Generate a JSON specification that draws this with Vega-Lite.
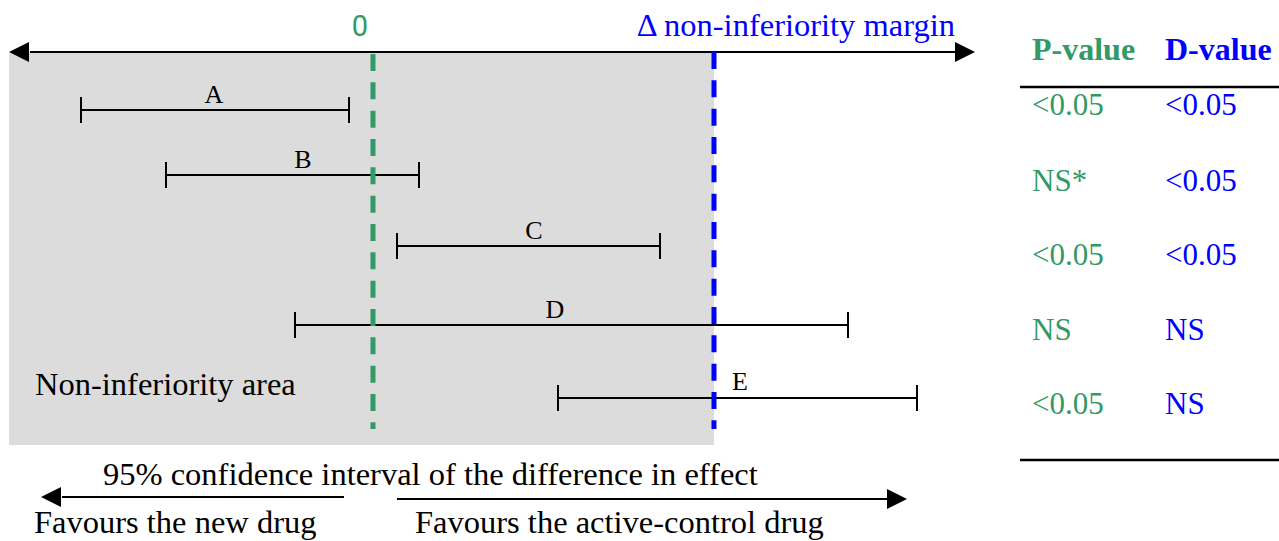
{
  "$schema": "https://vega.github.io/schema/vega-lite/v6.json",
  "width": 1279,
  "height": 541,
  "autosize": {"type": "none"},
  "padding": 0,
  "background": "white",
  "config": {"view": {"stroke": null}},
  "datasets": {
    "area": [{"x": -1.0674, "x2": 1.0, "y": 53, "y2": 445}],
    "arrows": [
      {"x": -1.0059, "x2": 1.7067, "y": 52},
      {"x": -0.912, "x2": -0.085, "y": 497},
      {"x": 0.0704, "x2": 1.5073, "y": 499}
    ],
    "heads": [
      {"x": -1.0674, "y": 52, "dir": "left"},
      {"x": 1.7654, "y": 52, "dir": "right"},
      {"x": -0.9736, "y": 497, "dir": "left"},
      {"x": 1.566, "y": 499, "dir": "right"}
    ],
    "intervals": [
      {"trial": "A", "lo": -0.8563, "hi": -0.0704, "y": 110, "lx": -0.4663, "ly": 103},
      {"trial": "B", "lo": -0.607, "hi": 0.1349, "y": 175, "lx": -0.2053, "ly": 168},
      {"trial": "C", "lo": 0.0704, "hi": 0.8416, "y": 246, "lx": 0.4721, "ly": 239},
      {"trial": "D", "lo": -0.2287, "hi": 1.393, "y": 325, "lx": 0.5337, "ly": 318},
      {"trial": "E", "lo": 0.5425, "hi": 1.5953, "y": 398, "lx": 1.0762, "ly": 390}
    ],
    "notes": [
      {"label": "Non-inferiority area", "x": -0.9912, "y": 395},
      {"label": "95% confidence interval of the difference in effect", "x": -0.7918, "y": 485},
      {"label": "Favours the new drug", "x": -0.9941, "y": 533},
      {"label": "Favours the active-control drug", "x": 0.1232, "y": 533}
    ],
    "header": [
      {"label": "P-value", "x": 1.9326, "col": "P"},
      {"label": "D-value", "x": 2.3226, "col": "D"}
    ],
    "table": [
      {"p": "<0.05", "d": "<0.05", "y": 115},
      {"p": "NS*", "d": "<0.05", "y": 191},
      {"p": "<0.05", "d": "<0.05", "y": 265},
      {"p": "NS", "d": "NS", "y": 340},
      {"p": "<0.05", "d": "NS", "y": 414}
    ],
    "tablelines": [
      {"x": 1.8974, "x2": 2.6569, "y": 87},
      {"x": 1.8974, "x2": 2.6569, "y": 460}
    ]
  },
  "layer": [
    {
      "data": {"name": "area"},
      "mark": {"type": "rect", "color": "#dcdcdc"},
      "encoding": {
        "x": {"field": "x", "type": "quantitative", "scale": {"domain": [-1.0938, 2.6569], "nice": false, "zero": false}, "axis": null},
        "x2": {"field": "x2"},
        "y": {"field": "y", "type": "quantitative", "scale": {"domain": [0, 541], "reverse": true, "nice": false, "zero": false}, "axis": null},
        "y2": {"field": "y2"}
      }
    },
    {
      "data": {"name": "arrows"},
      "mark": {"type": "rule", "color": "black", "strokeWidth": 2},
      "encoding": {
        "x": {"field": "x", "type": "quantitative", "scale": {"domain": [-1.0938, 2.6569], "nice": false, "zero": false}, "axis": null},
        "x2": {"field": "x2"},
        "y": {"field": "y", "type": "quantitative", "scale": {"domain": [0, 541], "reverse": true, "nice": false, "zero": false}, "axis": null}
      }
    },
    {
      "data": {"name": "heads"},
      "mark": {"type": "point", "filled": true, "color": "black", "opacity": 1, "size": 400, "strokeWidth": 0},
      "encoding": {
        "x": {"field": "x", "type": "quantitative", "scale": {"domain": [-1.0938, 2.6569], "nice": false, "zero": false}, "axis": null},
        "y": {"field": "y", "type": "quantitative", "scale": {"domain": [0, 541], "reverse": true, "nice": false, "zero": false}, "axis": null},
        "shape": {"field": "dir", "type": "nominal", "scale": {"domain": ["left", "right"], "range": ["M0,0L2,-1L2,1Z", "M0,0L-2,-1L-2,1Z"]}, "legend": null}
      }
    },
    {
      "data": {"name": "intervals"},
      "mark": {"type": "rule", "color": "black", "strokeWidth": 2},
      "encoding": {
        "x": {"field": "lo", "type": "quantitative", "scale": {"domain": [-1.0938, 2.6569], "nice": false, "zero": false}, "axis": null},
        "x2": {"field": "hi"},
        "y": {"field": "y", "type": "quantitative", "scale": {"domain": [0, 541], "reverse": true, "nice": false, "zero": false}, "axis": null}
      }
    },
    {
      "data": {"name": "intervals"},
      "mark": {"type": "tick", "orient": "vertical", "color": "black", "size": 26, "thickness": 2, "opacity": 1},
      "encoding": {
        "x": {"field": "lo", "type": "quantitative", "scale": {"domain": [-1.0938, 2.6569], "nice": false, "zero": false}, "axis": null},
        "y": {"field": "y", "type": "quantitative", "scale": {"domain": [0, 541], "reverse": true, "nice": false, "zero": false}, "axis": null}
      }
    },
    {
      "data": {"name": "intervals"},
      "mark": {"type": "tick", "orient": "vertical", "color": "black", "size": 26, "thickness": 2, "opacity": 1},
      "encoding": {
        "x": {"field": "hi", "type": "quantitative", "scale": {"domain": [-1.0938, 2.6569], "nice": false, "zero": false}, "axis": null},
        "y": {"field": "y", "type": "quantitative", "scale": {"domain": [0, 541], "reverse": true, "nice": false, "zero": false}, "axis": null}
      }
    },
    {
      "data": {"name": "intervals"},
      "mark": {"type": "text", "font": "Liberation Serif", "fontSize": 26, "align": "center", "baseline": "alphabetic", "color": "black"},
      "encoding": {
        "x": {"field": "lx", "type": "quantitative", "scale": {"domain": [-1.0938, 2.6569], "nice": false, "zero": false}, "axis": null},
        "y": {"field": "ly", "type": "quantitative", "scale": {"domain": [0, 541], "reverse": true, "nice": false, "zero": false}, "axis": null},
        "text": {"field": "trial"}
      }
    },
    {
      "data": {"values": [{"line": "zero"}]},
      "mark": {"type": "rule", "color": "#339966", "strokeWidth": 5, "strokeDash": [17, 11.33]},
      "encoding": {
        "x": {"datum": 0, "type": "quantitative", "scale": {"domain": [-1.0938, 2.6569], "nice": false, "zero": false}, "axis": null},
        "y": {"datum": 54, "type": "quantitative", "scale": {"domain": [0, 541], "reverse": true, "nice": false, "zero": false}, "axis": null},
        "y2": {"datum": 429}
      }
    },
    {
      "data": {"values": [{"line": "margin"}]},
      "mark": {"type": "rule", "color": "#0000ff", "strokeWidth": 5, "strokeDash": [17, 11.33]},
      "encoding": {
        "x": {"datum": 1, "type": "quantitative", "scale": {"domain": [-1.0938, 2.6569], "nice": false, "zero": false}, "axis": null},
        "y": {"datum": 52, "type": "quantitative", "scale": {"domain": [0, 541], "reverse": true, "nice": false, "zero": false}, "axis": null},
        "y2": {"datum": 429}
      }
    },
    {
      "data": {"values": [{"label": "0"}]},
      "mark": {"type": "text", "font": "Roboto", "fontSize": 29, "align": "center", "baseline": "alphabetic", "color": "#339966"},
      "encoding": {
        "x": {"datum": -0.0381, "type": "quantitative", "scale": {"domain": [-1.0938, 2.6569], "nice": false, "zero": false}, "axis": null},
        "y": {"datum": 36, "type": "quantitative", "scale": {"domain": [0, 541], "reverse": true, "nice": false, "zero": false}, "axis": null},
        "text": {"field": "label"}
      }
    },
    {
      "data": {"values": [{"label": "Δ non-inferiority margin"}]},
      "mark": {"type": "text", "font": "Liberation Serif", "fontSize": 32.5, "align": "right", "baseline": "alphabetic", "color": "#0000ff"},
      "encoding": {
        "x": {"datum": 1.7067, "type": "quantitative", "scale": {"domain": [-1.0938, 2.6569], "nice": false, "zero": false}, "axis": null},
        "y": {"datum": 36, "type": "quantitative", "scale": {"domain": [0, 541], "reverse": true, "nice": false, "zero": false}, "axis": null},
        "text": {"field": "label"}
      }
    },
    {
      "data": {"name": "notes"},
      "mark": {"type": "text", "font": "Liberation Serif", "fontSize": 32.5, "align": "left", "baseline": "alphabetic", "color": "black"},
      "encoding": {
        "x": {"field": "x", "type": "quantitative", "scale": {"domain": [-1.0938, 2.6569], "nice": false, "zero": false}, "axis": null},
        "y": {"field": "y", "type": "quantitative", "scale": {"domain": [0, 541], "reverse": true, "nice": false, "zero": false}, "axis": null},
        "text": {"field": "label"}
      }
    },
    {
      "data": {"name": "header"},
      "mark": {"type": "text", "font": "Liberation Serif", "fontSize": 32, "fontWeight": "bold", "align": "left", "baseline": "alphabetic"},
      "encoding": {
        "x": {"field": "x", "type": "quantitative", "scale": {"domain": [-1.0938, 2.6569], "nice": false, "zero": false}, "axis": null},
        "y": {"datum": 60, "type": "quantitative", "scale": {"domain": [0, 541], "reverse": true, "nice": false, "zero": false}, "axis": null},
        "text": {"field": "label"},
        "color": {"field": "col", "type": "nominal", "scale": {"domain": ["P", "D"], "range": ["#339966", "#0000ff"]}, "legend": null}
      }
    },
    {
      "data": {"name": "table"},
      "mark": {"type": "text", "font": "Liberation Serif", "fontSize": 31, "align": "left", "baseline": "alphabetic", "color": "#339966"},
      "encoding": {
        "x": {"datum": 1.9326, "type": "quantitative", "scale": {"domain": [-1.0938, 2.6569], "nice": false, "zero": false}, "axis": null},
        "y": {"field": "y", "type": "quantitative", "scale": {"domain": [0, 541], "reverse": true, "nice": false, "zero": false}, "axis": null},
        "text": {"field": "p"}
      }
    },
    {
      "data": {"name": "table"},
      "mark": {"type": "text", "font": "Liberation Serif", "fontSize": 31, "align": "left", "baseline": "alphabetic", "color": "#0000ff"},
      "encoding": {
        "x": {"datum": 2.3226, "type": "quantitative", "scale": {"domain": [-1.0938, 2.6569], "nice": false, "zero": false}, "axis": null},
        "y": {"field": "y", "type": "quantitative", "scale": {"domain": [0, 541], "reverse": true, "nice": false, "zero": false}, "axis": null},
        "text": {"field": "d"}
      }
    },
    {
      "data": {"name": "tablelines"},
      "mark": {"type": "rule", "color": "black", "strokeWidth": 2.5},
      "encoding": {
        "x": {"field": "x", "type": "quantitative", "scale": {"domain": [-1.0938, 2.6569], "nice": false, "zero": false}, "axis": null},
        "x2": {"field": "x2"},
        "y": {"field": "y", "type": "quantitative", "scale": {"domain": [0, 541], "reverse": true, "nice": false, "zero": false}, "axis": null}
      }
    }
  ]
}
